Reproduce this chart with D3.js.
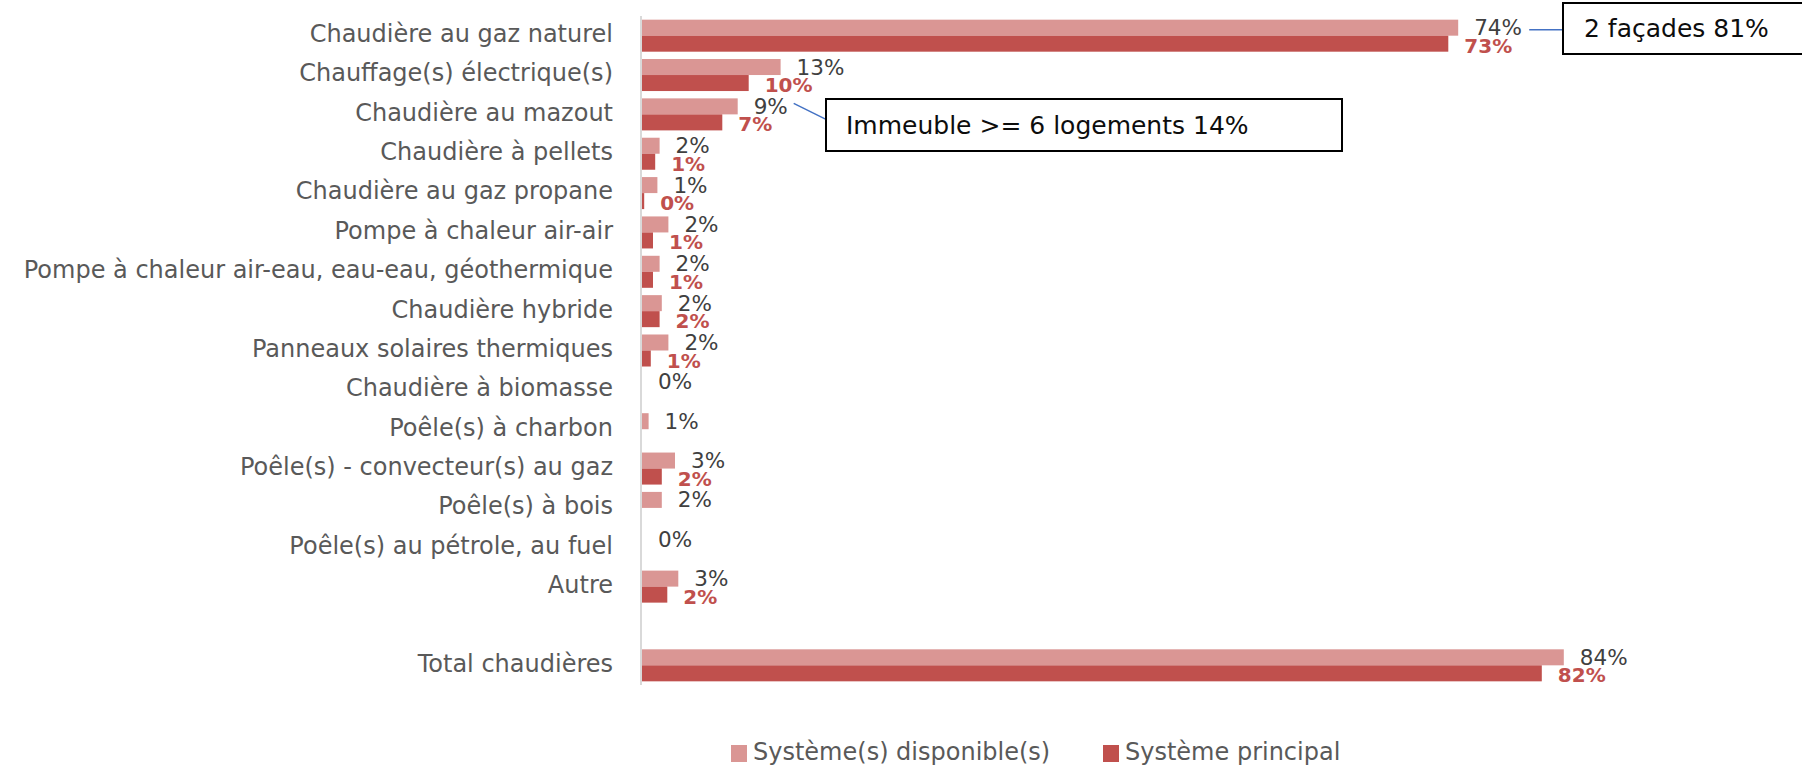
<!DOCTYPE html>
<html>
<head>
<meta charset="utf-8">
<script src="https://cdn.jsdelivr.net/npm/d3@7"></script>
<style>
  body { margin: 0; background: #fff; }
  svg { display: block; font-family: 'DejaVu Sans', sans-serif; }
</style>
</head>
<body>
<svg id="chart" width="1802" height="766"></svg>
<script>
// categories, top to bottom ('' = empty spacer row)
const categories = [
  'Chaudière au gaz naturel',
  'Chauffage(s) électrique(s)',
  'Chaudière au mazout',
  'Chaudière à pellets',
  'Chaudière au gaz propane',
  'Pompe à chaleur air-air',
  'Pompe à chaleur air-eau, eau-eau, géothermique',
  'Chaudière hybride ',
  'Panneaux solaires thermiques',
  'Chaudière à biomasse',
  'Poêle(s) à charbon',
  'Poêle(s) - convecteur(s) au gaz',
  'Poêle(s) à bois',
  'Poêle(s) au pétrole, au fuel',
  'Autre',
  '',
  'Total chaudières'
];

// % values, null = no value shown
const disponible = [74.2, 12.6, 8.7, 1.6, 1.4, 2.4, 1.6, 1.8, 2.4, 0, 0.6, 3.0, 1.8, 0, 3.3, null, 83.8];
const principal  = [73.3, 9.7, 7.3, 1.2, 0.2, 1.0, 1.0, 1.6, 0.8, null, null, 1.8, null, null, 2.3, null, 81.8];

const seriesNames = ['Système(s) disponible(s)', 'Système principal'];
const seriesColors = ['#DA9694', '#C0504D'];

// callouts: [row index, text]
const callouts = [
  { row: 0, text: '2 façades 81%' },
  { row: 2, text: 'Immeuble >= 6 logements 14%' }
];

const svg = d3.select('#chart');
const fmt = v => d3.format('.0f')(v) + '%';

const x = d3.scaleLinear().domain([0, 100]).range([642, 1742]);

const y = d3.scaleBand()
  .domain(d3.range(categories.length))
  .range([16, 685]);

const ySub = d3.scaleBand()
  .domain([0, 1])
  .range([0, y.step()])
  .paddingOuter(0.229);

const series = [disponible, principal].map((vals, s) => ({
  s,
  values: vals.map((v, i) => ({ i, v }))
}));

// category labels
svg.append('g')
  .selectAll('text')
  .data(categories)
  .join('text')
  .attr('x', 613)
  .attr('y', (d, i) => y(i) + y.bandwidth() / 2 - 2)
  .attr('dy', '0.35em')
  .attr('text-anchor', 'end')
  .style('font-size', '24px')
  .style('fill', '#595959')
  .text(d => d);

// bars
const sg = svg.selectAll('.series')
  .data(series)
  .join('g')
  .attr('class', 'series');

sg.selectAll('rect')
  .data(d => d.values.filter(p => p.v !== null).map(p => ({ ...p, s: d.s })))
  .join('rect')
  .attr('x', x(0))
  .attr('y', d => y(d.i) + ySub(d.s))
  .attr('width', d => x(d.v) - x(0))
  .attr('height', ySub.bandwidth())
  .style('fill', d => seriesColors[d.s]);

// value labels
sg.selectAll('text')
  .data(d => d.values.filter(p => p.v !== null).map(p => ({ ...p, s: d.s })))
  .join('text')
  .attr('x', d => x(d.v) + 16)
  .attr('y', d => y(d.i) + ySub(d.s) + ySub.bandwidth() / 2 + (d.s ? 2 : 0))
  .attr('dy', '0.35em')
  .style('font-size', d => d.s ? '20px' : '21.5px')
  .style('font-weight', d => d.s ? 700 : 400)
  .style('fill', d => d.s ? '#C0504D' : '#404040')
  .text(d => fmt(d.v));

// axis line
svg.append('line')
  .attr('x1', x(0) - 1).attr('x2', x(0) - 1)
  .attr('y1', y.range()[0]).attr('y2', y.range()[1])
  .style('stroke', '#D9D9D9')
  .style('stroke-width', 2);

// callouts
const c0 = callouts[0];
const c0y = y(c0.row) + ySub(0) + ySub.bandwidth() / 2 + 2;
svg.append('line')
  .attr('x1', x(disponible[c0.row]) + 71).attr('x2', 1563)
  .attr('y1', c0y).attr('y2', c0y)
  .style('stroke', '#4472C4').style('stroke-width', 1.5);
svg.append('rect')
  .attr('x', 1563).attr('y', 3).attr('width', 260).attr('height', 51)
  .style('fill', '#fff').style('stroke', '#000').style('stroke-width', 2);
svg.append('text')
  .attr('x', 1584).attr('y', 37)
  .style('font-size', '25px').style('fill', '#0d0d0d')
  .text(c0.text);

const c1 = callouts[1];
const c1y = y(c1.row) + ySub(0) + ySub.bandwidth() / 2;
svg.append('line')
  .attr('x1', x(disponible[c1.row]) + 56).attr('y1', c1y - 3)
  .attr('x2', 826).attr('y2', c1y + 13)
  .style('stroke', '#4472C4').style('stroke-width', 1.5);
svg.append('rect')
  .attr('x', 826).attr('y', 99).attr('width', 516).attr('height', 52)
  .style('fill', '#fff').style('stroke', '#000').style('stroke-width', 2);
svg.append('text')
  .attr('x', 846).attr('y', 134)
  .style('font-size', '25px').style('fill', '#0d0d0d')
  .text(c1.text);

// legend
const legendX = [731, 1103];
const lg = svg.append('g')
  .selectAll('g')
  .data(seriesNames)
  .join('g')
  .attr('transform', (d, i) => `translate(${legendX[i]},745)`);
lg.append('rect')
  .attr('width', 16).attr('height', 17)
  .style('fill', (d, i) => seriesColors[i]);
lg.append('text')
  .attr('x', 22).attr('y', 15)
  .style('font-size', '24px')
  .style('fill', '#595959')
  .text(d => d);
</script>
</body>
</html>
